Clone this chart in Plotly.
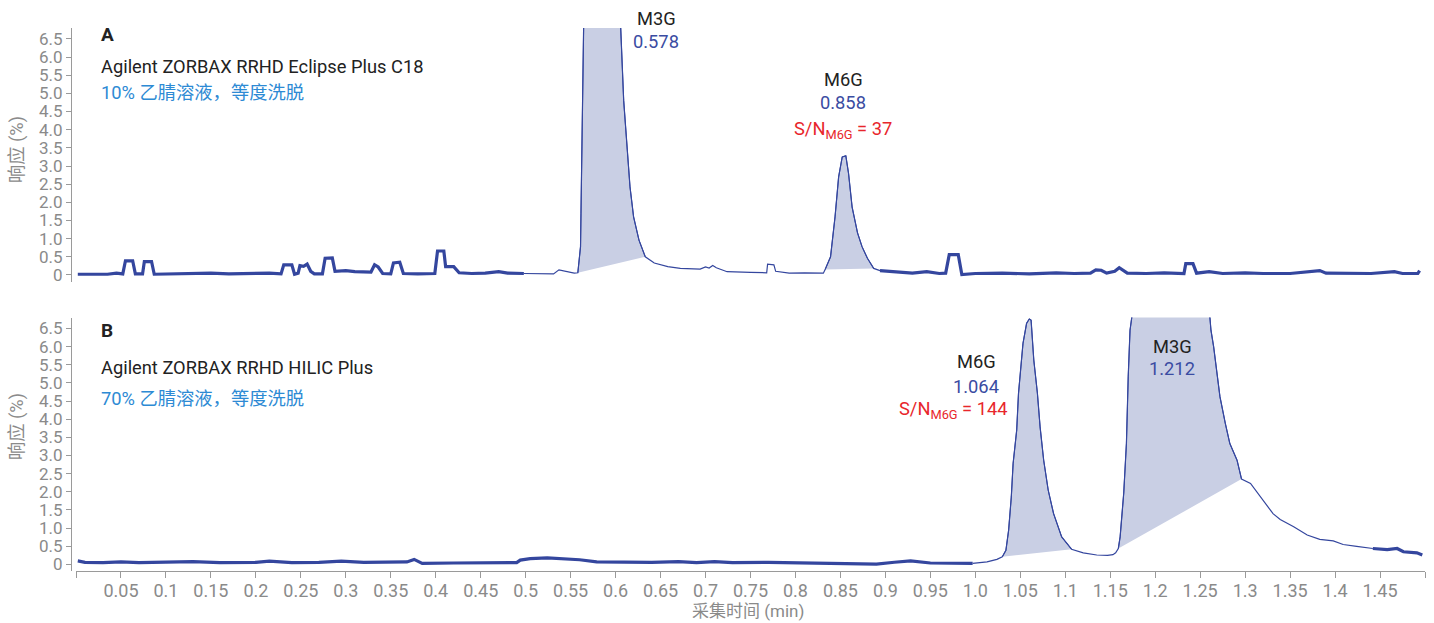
import plotly.graph_objects as go

# ---------------- data ----------------
# Panel A: Eclipse Plus C18 (time in min, response in %)
time_a = [0.002, 0.02, 0.035, 0.045, 0.052, 0.055, 0.063, 0.066, 0.074, 0.076, 0.084, 0.087,
          0.11, 0.13, 0.15, 0.17, 0.2, 0.215, 0.228, 0.231, 0.24, 0.243, 0.247, 0.249, 0.253,
          0.257, 0.261, 0.265, 0.274, 0.277, 0.285, 0.288, 0.3, 0.31, 0.328, 0.332, 0.336, 0.341,
          0.35, 0.353, 0.36, 0.364, 0.38, 0.399, 0.402, 0.409, 0.411, 0.42, 0.426, 0.44, 0.455,
          0.47, 0.48, 0.498, 0.513, 0.531, 0.537, 0.546, 0.554, 0.558, 0.561, 0.5615, 0.5645,
          0.578, 0.6055, 0.609, 0.614, 0.616, 0.62, 0.626, 0.633, 0.643, 0.658, 0.672, 0.694,
          0.7, 0.704, 0.708, 0.712, 0.724, 0.75, 0.768, 0.769, 0.776, 0.778, 0.793, 0.81, 0.831,
          0.833, 0.839, 0.844, 0.848, 0.852, 0.856, 0.859, 0.863, 0.869, 0.874, 0.88, 0.887,
          0.894, 0.91, 0.93, 0.946, 0.96, 0.967, 0.971, 0.981, 0.985, 1.0, 1.03, 1.06, 1.09,
          1.11, 1.128, 1.134, 1.14, 1.146, 1.155, 1.16, 1.169, 1.19, 1.21, 1.232, 1.234, 1.242,
          1.246, 1.26, 1.275, 1.3, 1.32, 1.35, 1.383, 1.39, 1.42, 1.44, 1.466, 1.475, 1.492, 1.494]
resp_a = [0.02, 0.03, 0.02, 0.05, 0.03, 0.39, 0.39, 0.03, 0.03, 0.37, 0.37, 0.02,
          0.03, 0.02, 0.05, 0.03, 0.04, 0.05, 0.03, 0.28, 0.28, 0.02, 0.05, 0.26, 0.24,
          0.3, 0.1, 0.03, 0.03, 0.46, 0.47, 0.1, 0.12, 0.09, 0.08, 0.28, 0.22, 0.04,
          0.03, 0.33, 0.35, 0.04, 0.03, 0.04, 0.66, 0.66, 0.23, 0.23, 0.06, 0.04, 0.05,
          0.09, 0.05, 0.04, 0.03, 0.03, 0.14, 0.09, 0.05, 0.06, 0.78, 1.7, 6.9,
          7.2, 6.9, 4.8, 3.17, 2.43, 1.6, 0.96, 0.5, 0.33, 0.23, 0.18, 0.16,
          0.22, 0.19, 0.26, 0.2, 0.09, 0.07, 0.06, 0.3, 0.28, 0.1, 0.05, 0.06, 0.05,
          0.15, 0.5, 1.6, 2.7, 3.25, 3.28, 2.8, 1.87, 1.16, 0.78, 0.46, 0.18,
          0.12, 0.08, 0.05, 0.09, 0.04, 0.05, 0.56, 0.56, 0.01, 0.04, 0.05, 0.03, 0.06,
          0.04, 0.05, 0.14, 0.13, 0.05, 0.1, 0.2, 0.05, 0.04, 0.06, 0.04, 0.31, 0.31,
          0.05, 0.09, 0.04, 0.06, 0.04, 0.04, 0.12, 0.05, 0.05, 0.04, 0.09, 0.04, 0.04, 0.12]

# Panel B: HILIC Plus
time_b = [0.002, 0.01, 0.03, 0.05, 0.07, 0.1, 0.13, 0.16, 0.2, 0.215, 0.24, 0.27, 0.295, 0.32,
          0.35, 0.368, 0.376, 0.385, 0.42, 0.46, 0.49, 0.494, 0.505, 0.524, 0.545, 0.56, 0.579,
          0.61, 0.64, 0.67, 0.69, 0.71, 0.73, 0.77, 0.8, 0.83, 0.862, 0.89, 0.91, 0.928, 0.95,
          0.97, 0.997, 1.013, 1.024, 1.03, 1.034, 1.037, 1.04, 1.042, 1.046, 1.048, 1.051,
          1.053, 1.057, 1.06, 1.062, 1.065, 1.069, 1.072, 1.076, 1.081, 1.087, 1.096, 1.107,
          1.12, 1.135, 1.147, 1.153, 1.156, 1.159, 1.161, 1.165, 1.168, 1.17, 1.172, 1.1745,
          1.215, 1.2605, 1.262, 1.265, 1.269, 1.272, 1.278, 1.283, 1.291, 1.296, 1.306, 1.317,
          1.331, 1.339, 1.354, 1.369, 1.383, 1.398, 1.409, 1.424, 1.442, 1.458, 1.469, 1.476,
          1.491, 1.497]
resp_b = [0.1, 0.06, 0.05, 0.07, 0.05, 0.06, 0.08, 0.05, 0.06, 0.09, 0.05, 0.06, 0.09, 0.06,
          0.06, 0.07, 0.14, 0.03, 0.04, 0.04, 0.05, 0.12, 0.16, 0.18, 0.15, 0.13, 0.07,
          0.06, 0.06, 0.08, 0.05, 0.08, 0.05, 0.06, 0.05, 0.03, 0.01, 0.01, 0.06, 0.1, 0.04,
          0.03, 0.03, 0.07, 0.14, 0.21, 0.39, 0.94, 1.86, 2.78, 3.7, 4.71, 5.54,
          6.09, 6.64, 6.76, 6.73, 5.63, 4.72, 3.79, 2.87, 2.05, 1.4, 0.76, 0.42,
          0.32, 0.26, 0.25, 0.27, 0.32, 0.44, 0.76, 1.96, 3.33, 5.17, 6.45, 6.9,
          7.3, 6.9, 6.45, 5.99, 5.17, 4.62, 3.88, 3.33, 2.87, 2.35, 2.23, 1.86,
          1.4, 1.24, 1.04, 0.81, 0.69, 0.65, 0.55, 0.5, 0.44, 0.41, 0.44, 0.35,
          0.32, 0.26]

# integration windows (start, end) in min
peaks_a = [(0.558, 0.633), (0.833, 0.887)]
peaks_b = [(1.03, 1.107), (1.159, 1.296)]
# thin-line (zoomed) portion of each trace
thin_a = (0.498, 0.894)
thin_b = (0.997, 1.442)

x_tick_vals = [round(0.05 * i, 2) for i in range(31)]
x_tick_text = [""] + ["0.05", "0.1", "0.15", "0.2", "0.25", "0.3", "0.35", "0.4", "0.45", "0.5",
                      "0.55", "0.6", "0.65", "0.7", "0.75", "0.8", "0.85", "0.9", "0.95", "1.0",
                      "1.05", "1.1", "1.15", "1.2", "1.25", "1.3", "1.35", "1.4", "1.45"] + [""]
y_tick_vals = [0.5 * i for i in range(14)]
y_tick_text = ["0", "0.5", "1.0", "1.5", "2.0", "2.5", "3.0", "3.5", "4.0", "4.5", "5.0",
               "5.5", "6.0", "6.5"]

# ---------------- styling ----------------
LINE = "#34469e"
FILL = "#c9cfe4"
GRAY = "#8a8a8a"
BLUE_T = "#2d8ad4"
PEAK_T = "#3a4ca2"
RED = "#e8262b"
FONT = "Roboto, 'Noto Sans CJK SC', sans-serif"
TXT = 18.3

fig = go.Figure()


def add_panel(t, r, peaks, thin, xa, ya):
    # fills (integrated areas)
    for (s, e) in peaks:
        px_ = [x for x in t if s <= x <= e]
        py_ = [y for x, y in zip(t, r) if s <= x <= e]
        fig.add_trace(go.Scatter(x=px_, y=py_, mode="lines", fill="toself", fillcolor=FILL,
                                 line=dict(color=LINE, width=1), xaxis=xa, yaxis=ya,
                                 hoverinfo="skip", showlegend=False))
    lo, hi = thin
    seg_thick1 = [(x, y) for x, y in zip(t, r) if x <= lo]
    seg_thin = [(x, y) for x, y in zip(t, r) if lo <= x <= hi]
    seg_thick2 = [(x, y) for x, y in zip(t, r) if x >= hi]
    for seg, w in ((seg_thick1, 3.2), (seg_thin, 1.2), (seg_thick2, 3.2)):
        if not seg:
            continue
        fig.add_trace(go.Scatter(x=[p[0] for p in seg], y=[p[1] for p in seg], mode="lines",
                                 line=dict(color=LINE, width=w), xaxis=xa, yaxis=ya,
                                 showlegend=False))


add_panel(time_a, resp_a, peaks_a, thin_a, "x", "y")
add_panel(time_b, resp_b, peaks_b, thin_b, "x2", "y2")

W, H = 1434, 623
ML, MR, MT, MB = 71, 9, 28, 52
PW, PH = W - ML - MR, H - MT - MB


def px(x):
    return (x - ML) / PW


def py(y):
    return (H - MB - y) / PH


yaxis_common = dict(range=[-0.18, 6.8], tickvals=y_tick_vals, ticktext=y_tick_text,
                    ticks="outside", ticklen=5, tickcolor="#9a9a9a", showline=True,
                    linecolor="#9a9a9a", linewidth=1, showgrid=False, zeroline=False,
                    tickfont=dict(family=FONT, size=17, color=GRAY), anchor="free", position=0,
                    automargin=False)
xdom = [px(76), 1]
fig.update_layout(
    template="none",
    width=W, height=H, margin=dict(l=ML, r=MR, t=MT, b=MB, pad=0),
    paper_bgcolor="white", plot_bgcolor="white",
    font=dict(family=FONT),
    showlegend=False,
    xaxis=dict(domain=xdom, range=[0, 1.5], showline=False, showticklabels=False, ticks="",
               showgrid=False, zeroline=False, anchor="y", automargin=False),
    xaxis2=dict(domain=xdom, range=[0, 1.5], tickvals=x_tick_vals, ticktext=x_tick_text,
                ticks="outside", ticklen=6, tickcolor="#9a9a9a", showline=True,
                linecolor="#9a9a9a", linewidth=1, showgrid=False, zeroline=False,
                tickfont=dict(family=FONT, size=18, color=GRAY), anchor="y2",
                automargin=False, ticklabelstandoff=-3),
    yaxis=dict(domain=[py(281.5), 1], **yaxis_common),
    yaxis2=dict(domain=[0, py(317.5)], **yaxis_common),
)

ann = []


def text(s, x, y, color="#222222", size=TXT, xanchor="center", bold=False, angle=0):
    if bold:
        s = "<b>" + s + "</b>"
    ann.append(dict(text=s, x=px(x), y=py(y), xref="paper", yref="paper", xanchor=xanchor,
                    yanchor="middle", showarrow=False, textangle=angle,
                    font=dict(family=FONT, size=size, color=color)))


# Panel A
text("A", 99, 35, size=19, xanchor="left", bold=True)
text("Agilent ZORBAX RRHD Eclipse Plus C18", 99, 66, xanchor="left")
text("10% 乙腈溶液，等度洗脱", 99, 92, color=BLUE_T, xanchor="left")
text("M3G", 656, 18)
text("0.578", 656, 41, color=PEAK_T)
text("M6G", 843, 80)
text("0.858", 843, 103, color=PEAK_T)
text("S/N<sub>M6G</sub> = 37", 843, 130, color=RED)
# Panel B
text("B", 99, 330, size=19, xanchor="left", bold=True)
text("Agilent ZORBAX RRHD HILIC Plus", 99, 367, xanchor="left")
text("70% 乙腈溶液，等度洗脱", 99, 398, color=BLUE_T, xanchor="left")
text("M6G", 976, 361)
text("1.064", 976, 386, color=PEAK_T)
text("S/N<sub>M6G</sub> = 144", 953, 410, color=RED)
text("M3G", 1172, 347)
text("1.212", 1172, 368, color=PEAK_T)
# axis titles
text("响应 (%)", 17, 150, color=GRAY, angle=-90)
text("响应 (%)", 17, 427, color=GRAY, angle=-90)
text("采集时间 (min)", 748, 611, color=GRAY, size=17)

fig.update_layout(annotations=ann)
fig.write_html("out.html", config={"displayModeBar": False},
               post_script="document.body.style.margin='0';document.body.style.padding='0';")
